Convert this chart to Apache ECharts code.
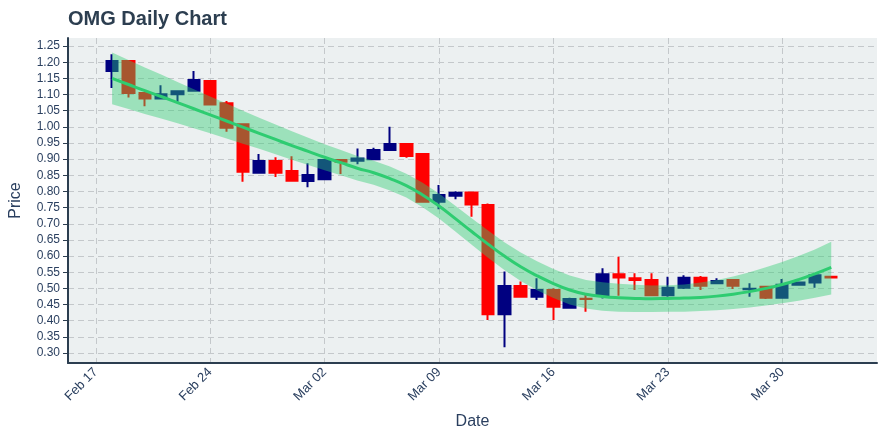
<!DOCTYPE html>
<html>
<head>
<meta charset="utf-8">
<script src="https://cdn.jsdelivr.net/npm/echarts@6/dist/echarts.min.js"></script>
<style>
  html, body { margin: 0; background: #fff; }
  #chart { width: 880px; height: 440px; }
</style>
</head>
<body>
<div id="chart"></div>
<script>
// daily candles, 2020-02-18 .. 2020-04-02
var dates = [
  '2020-02-18','2020-02-19','2020-02-20','2020-02-21','2020-02-22','2020-02-23','2020-02-24',
  '2020-02-25','2020-02-26','2020-02-27','2020-02-28','2020-02-29','2020-03-01','2020-03-02',
  '2020-03-03','2020-03-04','2020-03-05','2020-03-06','2020-03-07','2020-03-08','2020-03-09',
  '2020-03-10','2020-03-11','2020-03-12','2020-03-13','2020-03-14','2020-03-15','2020-03-16',
  '2020-03-17','2020-03-18','2020-03-19','2020-03-20','2020-03-21','2020-03-22','2020-03-23',
  '2020-03-24','2020-03-25','2020-03-26','2020-03-27','2020-03-28','2020-03-29','2020-03-30',
  '2020-03-31','2020-04-01','2020-04-02'
];
var openP = [
  1.173,1.204,1.105,1.088,1.101,1.112,1.142,1.073,1.008,0.858,0.894,0.863,0.832,0.838,
  0.897,0.895,0.900,0.928,0.947,0.916,0.768,0.787,0.797,0.758,0.420,0.507,0.474,0.495,
  0.440,0.468,0.479,0.544,0.531,0.526,0.479,0.502,0.533,0.516,0.526,0.497,0.505,0.471,
  0.511,0.518,0.536
];
var closeP = [
  1.204,1.105,1.088,1.101,1.110,1.145,1.069,0.997,0.861,0.894,0.858,0.833,0.851,0.897,
  0.892,0.902,0.928,0.947,0.910,0.768,0.789,0.796,0.760,0.420,0.507,0.474,0.495,0.443,
  0.467,0.467,0.544,0.534,0.526,0.479,0.502,0.533,0.508,0.523,0.508,0.499,0.471,0.511,
  0.518,0.541,0.534
];
var lowP = [
  1.120,1.091,1.064,1.088,1.078,1.112,1.069,0.985,0.830,0.858,0.845,0.833,0.813,0.838,
  0.854,0.884,0.900,0.928,0.904,0.768,0.745,0.776,0.722,0.402,0.318,0.471,0.464,0.402,
  0.440,0.428,0.469,0.477,0.495,0.477,0.474,0.498,0.495,0.516,0.498,0.474,0.467,0.471,
  0.511,0.502,0.534
];
var highP = [
  1.225,1.205,1.105,1.129,1.112,1.173,1.142,1.080,1.008,0.916,0.906,0.909,0.887,0.897,
  0.899,0.933,0.935,1.000,0.947,0.916,0.820,0.801,0.797,0.763,0.552,0.521,0.531,0.500,
  0.471,0.485,0.562,0.598,0.547,0.547,0.536,0.541,0.538,0.531,0.529,0.516,0.505,0.529,
  0.521,0.541,0.539
];
// smoothed trend and its band
var trend = [
  1.150,1.131,1.112,1.094,1.075,1.056,1.037,1.018,0.999,0.980,0.961,0.942,0.924,0.906,
  0.889,0.872,0.858,0.840,0.818,0.789,0.755,0.716,0.676,0.637,0.600,0.567,0.539,0.515,
  0.495,0.482,0.475,0.471,0.469,0.468,0.469,0.470,0.472,0.476,0.482,0.490,0.500,0.512,
  0.527,0.545,0.565
];
var bandUpper = [
  1.230,1.207,1.184,1.162,1.139,1.116,1.094,1.072,1.050,1.028,1.007,0.986,0.966,0.946,
  0.928,0.910,0.895,0.877,0.855,0.827,0.794,0.756,0.717,0.679,0.643,0.611,0.584,0.560,
  0.540,0.526,0.519,0.514,0.511,0.509,0.510,0.512,0.518,0.526,0.537,0.550,0.565,0.582,
  0.600,0.620,0.644
];
var bandLower = [
  1.070,1.055,1.040,1.026,1.011,0.996,0.980,0.964,0.948,0.932,0.915,0.898,0.882,0.866,
  0.850,0.834,0.821,0.803,0.781,0.751,0.716,0.676,0.635,0.595,0.557,0.523,0.494,0.470,
  0.450,0.438,0.431,0.428,0.427,0.427,0.428,0.428,0.430,0.432,0.436,0.441,0.447,0.454,
  0.462,0.471,0.481
];
var xTickDays = [0, 7, 14, 21, 28, 35, 42];
var xTickLabels = ['Feb 17', 'Feb 24', 'Mar 02', 'Mar 09', 'Mar 16', 'Mar 23', 'Mar 30'];
var yTicks = [0.30,0.35,0.40,0.45,0.50,0.55,0.60,0.65,0.70,0.75,0.80,0.85,0.90,0.95,1.00,1.05,1.10,1.15,1.20,1.25];

var base = Date.UTC(2020, 1, 17);
var dayNum = dates.map(function (d) {
  return Math.round((Date.parse(d + 'T00:00:00Z') - base) / 86400000);
});

var candleData = dayNum.map(function (x, i) {
  return [x, openP[i], closeP[i], lowP[i], highP[i]];
});
var bandData = dayNum.map(function (x, i) { return [x, bandLower[i], bandUpper[i]]; });
var trendData = dayNum.map(function (x, i) { return [x, trend[i]]; });

var textColor = '#2a3f5f';
var axisColor = '#2c3e50';
var font = 'Liberation Sans, Arial, sans-serif';
var gridLine = { show: true, lineStyle: { color: '#c4c8cb', type: [6, 4], width: 1 } };

// band drawn as one polygon: upper edge forward, lower edge back
function renderBand(params, api) {
  if (params.dataIndex !== 0) return null;
  var pts = [];
  for (var i = 0; i < bandData.length; i++) {
    pts.push(api.coord([bandData[i][0], bandData[i][2]]));
  }
  for (var j = bandData.length - 1; j >= 0; j--) {
    pts.push(api.coord([bandData[j][0], bandData[j][1]]));
  }
  return {
    type: 'polygon',
    shape: { points: pts },
    style: { fill: 'rgba(46,204,113,0.42)' }
  };
}

var chart = echarts.init(document.getElementById('chart'));
chart.setOption({
  animation: false,
  backgroundColor: '#fff',
  title: {
    text: 'OMG Daily Chart',
    left: 63,
    top: 4,
    textStyle: { fontSize: 20, fontWeight: 'bold', color: axisColor, fontFamily: font }
  },
  grid: {
    left: 65, right: 3, top: 38, bottom: 77,
    show: true, backgroundColor: '#ecf0f1', borderWidth: 0
  },
  xAxis: {
    type: 'value',
    min: -1.7,
    max: 47.8,
    name: 'Date',
    nameLocation: 'middle',
    nameGap: 51,
    nameTextStyle: { fontSize: 16, color: textColor, fontFamily: font },
    axisLine: { show: true, onZero: false, lineStyle: { color: axisColor, width: 2 } },
    axisTick: { show: false, customValues: xTickDays },
    axisLabel: {
      customValues: xTickDays,
      rotate: 45,
      fontSize: 13,
      color: textColor,
      fontFamily: font,
      margin: 7,
      formatter: function (v) { return xTickLabels[xTickDays.indexOf(Math.round(v))] || ''; }
    },
    splitLine: gridLine
  },
  yAxis: {
    type: 'value',
    min: 0.269,
    max: 1.275,
    name: 'Price',
    nameLocation: 'middle',
    nameGap: 44,
    nameTextStyle: { fontSize: 16, color: textColor, fontFamily: font },
    axisLine: { show: true, onZero: false, lineStyle: { color: axisColor, width: 2 } },
    axisTick: { show: true, length: 5, customValues: yTicks, lineStyle: { color: axisColor } },
    axisLabel: {
      customValues: yTicks,
      fontSize: 12,
      color: textColor,
      fontFamily: font,
      margin: 8,
      formatter: function (v) { return v.toFixed(2); }
    },
    splitLine: gridLine
  },
  series: [
    {
      type: 'candlestick',
      data: candleData,
      encode: { x: 0, y: [1, 2, 3, 4] },
      barWidth: 12,
      itemStyle: {
        color: '#000080', color0: '#ff0000',
        borderColor: '#000080', borderColor0: '#ff0000',
        borderWidth: 2
      },
      z: 2
    },
    {
      type: 'custom',
      data: bandData,
      encode: { x: 0, y: [1, 2] },
      renderItem: renderBand,
      silent: true,
      z: 3
    },
    {
      type: 'line',
      data: trendData,
      symbol: 'none',
      smooth: true,
      lineStyle: { color: '#2ecc71', width: 3 },
      z: 4
    }
  ]
});
</script>
</body>
</html>
